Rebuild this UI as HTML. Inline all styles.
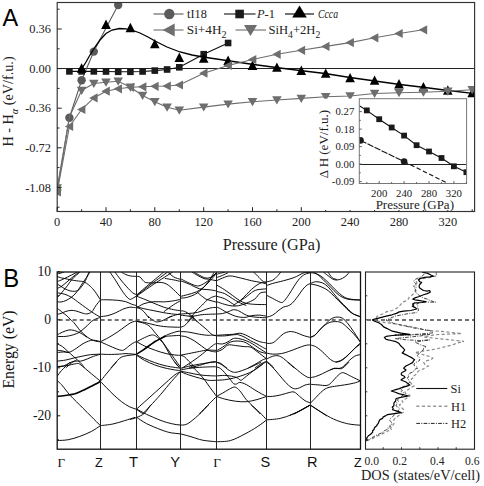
<!DOCTYPE html>
<html><head><meta charset="utf-8"><style>
html,body{margin:0;padding:0;background:#fff;}
svg{display:block;}
</style></head><body>
<svg width="484" height="486" viewBox="0 0 484 486">
<rect width="484" height="486" fill="#fff"/>
<text x="2.5" y="25.6" font-family='"Liberation Sans", sans-serif' font-size="23.5" fill="#000">A</text>
<defs><clipPath id="ca"><rect x="57.2" y="2.5" width="417.4" height="209"/></clipPath><clipPath id="ci"><rect x="359.3" y="98.7" width="107.3" height="84.8"/></clipPath><clipPath id="cb"><rect x="57.2" y="272" width="303.3" height="177.2"/></clipPath><clipPath id="cd"><rect x="365.5" y="272" width="109" height="177.2"/></clipPath></defs>
<line x1="57.2" y1="68.5" x2="474.6" y2="68.5" stroke="#222" stroke-width="1"/>
<g clip-path="url(#ca)">
<polyline points="57.2,190.0 69.4,117.7 81.6,80.3 93.8,51.6 106.0,28.0 118.2,5.0 130.4,-18.0" fill="none" stroke="#5a5a5a" stroke-width="1.1" />
<circle cx="57.2" cy="190.0" r="4.2" fill="#5a5a5a"/>
<circle cx="69.4" cy="117.7" r="4.2" fill="#5a5a5a"/>
<circle cx="81.6" cy="80.3" r="4.2" fill="#5a5a5a"/>
<circle cx="93.8" cy="51.6" r="4.2" fill="#5a5a5a"/>
<circle cx="118.2" cy="5.0" r="4.2" fill="#5a5a5a"/>
<circle cx="130.4" cy="-18.0" r="4.2" fill="#5a5a5a"/>
<polyline points="69.4,71.4 81.6,71.4 93.8,71.4 106.0,71.5 118.2,71.8 130.4,71.8 142.6,71.5 154.8,70.6 167.1,69.5 179.3,67.3 203.7,54.2 228.1,43.0" fill="none" stroke="#111" stroke-width="1.1" />
<rect x="66.1" y="68.1" width="6.6" height="6.6" fill="#1a1a1a"/>
<rect x="78.3" y="68.1" width="6.6" height="6.6" fill="#1a1a1a"/>
<rect x="90.5" y="68.1" width="6.6" height="6.6" fill="#1a1a1a"/>
<rect x="102.7" y="68.2" width="6.6" height="6.6" fill="#1a1a1a"/>
<rect x="114.9" y="68.5" width="6.6" height="6.6" fill="#1a1a1a"/>
<rect x="127.1" y="68.5" width="6.6" height="6.6" fill="#1a1a1a"/>
<rect x="139.3" y="68.2" width="6.6" height="6.6" fill="#1a1a1a"/>
<rect x="151.5" y="67.3" width="6.6" height="6.6" fill="#1a1a1a"/>
<rect x="163.8" y="66.2" width="6.6" height="6.6" fill="#1a1a1a"/>
<rect x="176.0" y="64.0" width="6.6" height="6.6" fill="#1a1a1a"/>
<rect x="200.4" y="50.9" width="6.6" height="6.6" fill="#1a1a1a"/>
<rect x="224.8" y="39.7" width="6.6" height="6.6" fill="#1a1a1a"/>
<polyline points="81.6,69.0 86.0,62.0 90.0,55.0 95.0,47.0 100.0,40.0 106.0,33.5 112.0,30.0 119.4,28.5 126.0,28.8 133.0,30.5 140.0,33.0 148.0,37.0 155.0,41.0 167.0,47.0 180.0,52.0 192.0,55.0 203.0,57.0 230.0,61.0 250.0,64.0 280.0,68.0 300.0,70.5 325.0,73.5 350.0,77.5 375.0,81.0 400.0,84.5 425.0,87.5 448.0,90.5 476.0,93.8" fill="none" stroke="#000" stroke-width="1.3" />
<polygon points="76.8,72.7 86.4,72.7 81.6,63.3" fill="#000"/>
<polygon points="101.2,29.0 110.8,29.0 106.0,19.6" fill="#000"/>
<polygon points="125.6,32.2 135.2,32.2 130.4,22.8" fill="#000"/>
<polygon points="150.0,48.3 159.6,48.3 154.8,38.9" fill="#000"/>
<polygon points="174.5,62.0 184.1,62.0 179.3,52.6" fill="#000"/>
<polygon points="198.9,62.8 208.5,62.8 203.7,53.4" fill="#000"/>
<polygon points="223.3,64.9 232.9,64.9 228.1,55.5" fill="#000"/>
<polygon points="247.7,69.9 257.3,69.9 252.5,60.5" fill="#000"/>
<polygon points="272.1,71.8 281.7,71.8 276.9,62.4" fill="#000"/>
<polygon points="296.5,74.9 306.1,74.9 301.3,65.5" fill="#000"/>
<polygon points="320.9,77.8 330.5,77.8 325.7,68.4" fill="#000"/>
<polygon points="345.3,82.3 354.9,82.3 350.1,72.9" fill="#000"/>
<polygon points="369.8,84.8 379.4,84.8 374.6,75.4" fill="#000"/>
<polygon points="394.2,88.5 403.8,88.5 399.0,79.1" fill="#000"/>
<polygon points="418.6,91.5 428.2,91.5 423.4,82.1" fill="#000"/>
<polygon points="443.0,94.7 452.6,94.7 447.8,85.3" fill="#000"/>
<polygon points="467.4,97.2 477.0,97.2 472.2,87.8" fill="#000"/>
<polyline points="57.2,192.0 69.4,126.5 81.6,109.5 93.8,97.9 106.0,91.2 118.2,88.8 130.4,87.3 142.6,86.8 154.8,86.3 167.1,86.0 179.3,85.0 203.7,73.2 228.1,65.5 252.5,59.5 276.9,54.3 301.3,50.3 325.7,46.4 350.1,42.6 374.6,37.8 399.0,33.5 423.4,29.8" fill="none" stroke="#6e6e6e" stroke-width="1.1" />
<polygon points="61.0,187.4 61.0,196.6 52.6,192.0" fill="#6e6e6e"/>
<polygon points="73.2,121.9 73.2,131.1 64.8,126.5" fill="#6e6e6e"/>
<polygon points="85.4,104.9 85.4,114.1 77.0,109.5" fill="#6e6e6e"/>
<polygon points="97.6,93.3 97.6,102.5 89.2,97.9" fill="#6e6e6e"/>
<polygon points="109.8,86.6 109.8,95.8 101.4,91.2" fill="#6e6e6e"/>
<polygon points="122.0,84.2 122.0,93.4 113.6,88.8" fill="#6e6e6e"/>
<polygon points="134.2,82.7 134.2,91.9 125.8,87.3" fill="#6e6e6e"/>
<polygon points="146.4,82.2 146.4,91.4 138.0,86.8" fill="#6e6e6e"/>
<polygon points="158.6,81.7 158.6,90.9 150.2,86.3" fill="#6e6e6e"/>
<polygon points="170.8,81.4 170.8,90.6 162.4,86.0" fill="#6e6e6e"/>
<polygon points="183.0,80.4 183.0,89.6 174.6,85.0" fill="#6e6e6e"/>
<polygon points="207.5,68.6 207.5,77.8 199.1,73.2" fill="#6e6e6e"/>
<polygon points="231.9,60.9 231.9,70.1 223.5,65.5" fill="#6e6e6e"/>
<polygon points="256.3,54.9 256.3,64.1 247.9,59.5" fill="#6e6e6e"/>
<polygon points="280.7,49.7 280.7,58.9 272.3,54.3" fill="#6e6e6e"/>
<polygon points="305.1,45.7 305.1,54.9 296.7,50.3" fill="#6e6e6e"/>
<polygon points="329.5,41.8 329.5,51.0 321.1,46.4" fill="#6e6e6e"/>
<polygon points="353.9,38.0 353.9,47.2 345.5,42.6" fill="#6e6e6e"/>
<polygon points="378.3,33.2 378.3,42.4 369.9,37.8" fill="#6e6e6e"/>
<polygon points="402.7,28.9 402.7,38.1 394.3,33.5" fill="#6e6e6e"/>
<polygon points="427.2,25.2 427.2,34.4 418.8,29.8" fill="#6e6e6e"/>
<polyline points="57.2,188.0 69.4,117.0 81.6,90.5 93.8,83.5 106.0,82.3 118.2,81.3 130.4,87.3 142.6,95.5 154.8,101.7 167.1,107.2 179.3,110.3 203.7,107.1 228.1,104.1 252.5,101.7 276.9,100.0 301.3,98.4 325.7,96.7 350.1,96.0 374.6,93.5 399.0,92.8 423.4,92.2 447.8,91.2 472.2,89.8" fill="none" stroke="#6e6e6e" stroke-width="1.1" />
<polygon points="52.4,184.3 62.0,184.3 57.2,192.5" fill="#6e6e6e"/>
<polygon points="76.8,86.8 86.4,86.8 81.6,95.0" fill="#6e6e6e"/>
<polygon points="89.0,79.8 98.6,79.8 93.8,88.0" fill="#6e6e6e"/>
<polygon points="101.2,78.6 110.8,78.6 106.0,86.8" fill="#6e6e6e"/>
<polygon points="113.4,77.6 123.0,77.6 118.2,85.8" fill="#6e6e6e"/>
<polygon points="125.6,83.6 135.2,83.6 130.4,91.8" fill="#6e6e6e"/>
<polygon points="137.8,91.8 147.4,91.8 142.6,100.0" fill="#6e6e6e"/>
<polygon points="150.0,98.0 159.6,98.0 154.8,106.2" fill="#6e6e6e"/>
<polygon points="162.3,103.5 171.9,103.5 167.1,111.7" fill="#6e6e6e"/>
<polygon points="174.5,106.6 184.1,106.6 179.3,114.8" fill="#6e6e6e"/>
<polygon points="198.9,103.4 208.5,103.4 203.7,111.6" fill="#6e6e6e"/>
<polygon points="223.3,100.4 232.9,100.4 228.1,108.6" fill="#6e6e6e"/>
<polygon points="247.7,98.0 257.3,98.0 252.5,106.2" fill="#6e6e6e"/>
<polygon points="272.1,96.3 281.7,96.3 276.9,104.5" fill="#6e6e6e"/>
<polygon points="296.5,94.7 306.1,94.7 301.3,102.9" fill="#6e6e6e"/>
<polygon points="320.9,93.0 330.5,93.0 325.7,101.2" fill="#6e6e6e"/>
<polygon points="345.3,92.3 354.9,92.3 350.1,100.5" fill="#6e6e6e"/>
<polygon points="369.8,89.8 379.4,89.8 374.6,98.0" fill="#6e6e6e"/>
<polygon points="394.2,89.1 403.8,89.1 399.0,97.3" fill="#6e6e6e"/>
<polygon points="418.6,88.5 428.2,88.5 423.4,96.7" fill="#6e6e6e"/>
<polygon points="443.0,87.5 452.6,87.5 447.8,95.7" fill="#6e6e6e"/>
<polygon points="467.4,86.1 477.0,86.1 472.2,94.3" fill="#6e6e6e"/>
</g>
<rect x="57.2" y="2.5" width="417.4" height="209.0" fill="none" stroke="#333" stroke-width="1.15"/>
<line x1="57.2" y1="9.2" x2="59.5" y2="9.2" stroke="#222" stroke-width="1"/>
<line x1="57.2" y1="29.0" x2="61.7" y2="29.0" stroke="#222" stroke-width="1"/>
<text x="51" y="33.2" text-anchor="end" font-family='"Liberation Serif", serif' font-size="12.4" fill="#222">0.36</text>
<line x1="57.2" y1="48.8" x2="59.5" y2="48.8" stroke="#222" stroke-width="1"/>
<line x1="57.2" y1="68.6" x2="61.7" y2="68.6" stroke="#222" stroke-width="1"/>
<text x="51" y="72.8" text-anchor="end" font-family='"Liberation Serif", serif' font-size="12.4" fill="#222">0.00</text>
<line x1="57.2" y1="88.4" x2="59.5" y2="88.4" stroke="#222" stroke-width="1"/>
<line x1="57.2" y1="108.2" x2="61.7" y2="108.2" stroke="#222" stroke-width="1"/>
<text x="51" y="112.4" text-anchor="end" font-family='"Liberation Serif", serif' font-size="12.4" fill="#222">-0.36</text>
<line x1="57.2" y1="128.0" x2="59.5" y2="128.0" stroke="#222" stroke-width="1"/>
<line x1="57.2" y1="147.8" x2="61.7" y2="147.8" stroke="#222" stroke-width="1"/>
<text x="51" y="152.0" text-anchor="end" font-family='"Liberation Serif", serif' font-size="12.4" fill="#222">-0.72</text>
<line x1="57.2" y1="167.6" x2="59.5" y2="167.6" stroke="#222" stroke-width="1"/>
<line x1="57.2" y1="187.4" x2="61.7" y2="187.4" stroke="#222" stroke-width="1"/>
<text x="51" y="191.6" text-anchor="end" font-family='"Liberation Serif", serif' font-size="12.4" fill="#222">-1.08</text>
<line x1="57.2" y1="207.2" x2="59.5" y2="207.2" stroke="#222" stroke-width="1"/>
<line x1="57.2" y1="211.5" x2="57.2" y2="207.2" stroke="#222" stroke-width="1"/>
<text x="57.2" y="226.0" text-anchor="middle" font-family='"Liberation Serif", serif' font-size="12.4" fill="#222">0</text>
<line x1="81.6" y1="211.5" x2="81.6" y2="209.3" stroke="#222" stroke-width="1"/>
<line x1="106.0" y1="211.5" x2="106.0" y2="207.2" stroke="#222" stroke-width="1"/>
<text x="106.0" y="226.0" text-anchor="middle" font-family='"Liberation Serif", serif' font-size="12.4" fill="#222">40</text>
<line x1="130.4" y1="211.5" x2="130.4" y2="209.3" stroke="#222" stroke-width="1"/>
<line x1="154.8" y1="211.5" x2="154.8" y2="207.2" stroke="#222" stroke-width="1"/>
<text x="154.8" y="226.0" text-anchor="middle" font-family='"Liberation Serif", serif' font-size="12.4" fill="#222">80</text>
<line x1="179.3" y1="211.5" x2="179.3" y2="209.3" stroke="#222" stroke-width="1"/>
<line x1="203.7" y1="211.5" x2="203.7" y2="207.2" stroke="#222" stroke-width="1"/>
<text x="203.7" y="226.0" text-anchor="middle" font-family='"Liberation Serif", serif' font-size="12.4" fill="#222">120</text>
<line x1="228.1" y1="211.5" x2="228.1" y2="209.3" stroke="#222" stroke-width="1"/>
<line x1="252.5" y1="211.5" x2="252.5" y2="207.2" stroke="#222" stroke-width="1"/>
<text x="252.5" y="226.0" text-anchor="middle" font-family='"Liberation Serif", serif' font-size="12.4" fill="#222">160</text>
<line x1="276.9" y1="211.5" x2="276.9" y2="209.3" stroke="#222" stroke-width="1"/>
<line x1="301.3" y1="211.5" x2="301.3" y2="207.2" stroke="#222" stroke-width="1"/>
<text x="301.3" y="226.0" text-anchor="middle" font-family='"Liberation Serif", serif' font-size="12.4" fill="#222">200</text>
<line x1="325.7" y1="211.5" x2="325.7" y2="209.3" stroke="#222" stroke-width="1"/>
<line x1="350.1" y1="211.5" x2="350.1" y2="207.2" stroke="#222" stroke-width="1"/>
<text x="350.1" y="226.0" text-anchor="middle" font-family='"Liberation Serif", serif' font-size="12.4" fill="#222">240</text>
<line x1="374.6" y1="211.5" x2="374.6" y2="209.3" stroke="#222" stroke-width="1"/>
<line x1="399.0" y1="211.5" x2="399.0" y2="207.2" stroke="#222" stroke-width="1"/>
<text x="399.0" y="226.0" text-anchor="middle" font-family='"Liberation Serif", serif' font-size="12.4" fill="#222">280</text>
<line x1="423.4" y1="211.5" x2="423.4" y2="209.3" stroke="#222" stroke-width="1"/>
<line x1="447.8" y1="211.5" x2="447.8" y2="207.2" stroke="#222" stroke-width="1"/>
<text x="447.8" y="226.0" text-anchor="middle" font-family='"Liberation Serif", serif' font-size="12.4" fill="#222">320</text>
<line x1="472.2" y1="211.5" x2="472.2" y2="209.3" stroke="#222" stroke-width="1"/>
<text x="271.5" y="249.5" text-anchor="middle" font-family='"Liberation Serif", serif' font-size="16.2" fill="#222">Pressure (GPa)</text>
<text transform="translate(13,101.5) rotate(-90)" text-anchor="middle" font-family='"Liberation Serif", serif' font-size="14.2" fill="#222">H - H<tspan font-style="italic" font-size="10.5" dy="4.5">α</tspan><tspan dy="-4.5"> (eV/f.u.)</tspan></text>
<line x1="153.5" y1="14" x2="183.5" y2="14" stroke="#5a5a5a" stroke-width="1.1"/><circle cx="169.3" cy="14.0" r="5.2" fill="#5a5a5a"/>
<text x="187" y="18.2" font-family='"Liberation Serif", serif' font-size="12.4" fill="#222" textLength="19.8" lengthAdjust="spacingAndGlyphs">tI18</text>
<line x1="224" y1="14" x2="255.5" y2="14" stroke="#111" stroke-width="1.1"/><rect x="235.3" y="9.7" width="8.6" height="8.6" fill="#1a1a1a"/>
<text x="257" y="18.3" font-family='"Liberation Serif", serif' font-size="12.4" fill="#222"><tspan font-style="italic">P</tspan>-1</text>
<line x1="285" y1="14" x2="314" y2="14" stroke="#000" stroke-width="1.1"/><polygon points="292.2,17.4 306.8,17.4 299.5,5.4" fill="#000"/>
<text x="318" y="18.3" font-family='"Liberation Serif", serif' font-size="12.4" font-style="italic" fill="#222" textLength="20" lengthAdjust="spacingAndGlyphs">Ccca</text>
<line x1="153.5" y1="30" x2="183.5" y2="30" stroke="#6e6e6e" stroke-width="1.1"/><polygon points="174.7,23.5 174.7,36.5 162.7,30.0" fill="#6e6e6e"/>
<text x="186.8" y="34.3" font-family='"Liberation Serif", serif' font-size="12.4" fill="#222" textLength="39.7" lengthAdjust="spacingAndGlyphs">Si+4H<tspan font-size="9.5" dy="3.6">2</tspan></text>
<line x1="235.5" y1="30" x2="266" y2="30" stroke="#6e6e6e" stroke-width="1.1"/><polygon points="244.0,25.1 257.0,25.1 250.5,36.0" fill="#6e6e6e"/>
<text x="268.5" y="34.3" font-family='"Liberation Serif", serif' font-size="12.4" fill="#222" textLength="51.8" lengthAdjust="spacingAndGlyphs">SiH<tspan font-size="9.5" dy="3.6">4</tspan><tspan dy="-3.6">+2H</tspan><tspan font-size="9.5" dy="3.6">2</tspan></text>
<rect x="318" y="98.7" width="148.6" height="111.3" fill="#fff"/>
<g clip-path="url(#ci)">
<line x1="359.3" y1="164.5" x2="466.6" y2="164.5" stroke="#222" stroke-width="1"/>
<polyline points="359.3,105.8 366.8,110.4 379.2,119.2 391.6,127.5 404.1,135.6 416.6,145.2 429.0,151.5 441.4,158.0 453.9,166.3 466.4,172.2 468.0,173.0" fill="none" stroke="#111" stroke-width="1.1" />
<rect x="363.9" y="107.5" width="5.8" height="5.8" fill="#1a1a1a"/>
<rect x="376.3" y="116.3" width="5.8" height="5.8" fill="#1a1a1a"/>
<rect x="388.8" y="124.6" width="5.8" height="5.8" fill="#1a1a1a"/>
<rect x="401.2" y="132.7" width="5.8" height="5.8" fill="#1a1a1a"/>
<rect x="413.7" y="142.3" width="5.8" height="5.8" fill="#1a1a1a"/>
<rect x="426.1" y="148.6" width="5.8" height="5.8" fill="#1a1a1a"/>
<rect x="438.6" y="155.1" width="5.8" height="5.8" fill="#1a1a1a"/>
<rect x="451.0" y="163.4" width="5.8" height="5.8" fill="#1a1a1a"/>
<rect x="463.5" y="169.3" width="5.8" height="5.8" fill="#1a1a1a"/>
<polyline points="360.5,140.4 404.1,161.6" fill="none" stroke="#111" stroke-width="1.1" stroke-dasharray="6.5,1.3"/>
<polyline points="404.1,161.6 450.0,184.5" fill="none" stroke="#111" stroke-width="1.1" stroke-dasharray="4.5,2.5"/>
<circle cx="360.5" cy="140.4" r="3.3" fill="#1a1a1a"/>
<circle cx="404.1" cy="161.6" r="3.3" fill="#1a1a1a"/>
</g>
<rect x="359.3" y="98.7" width="107.3" height="84.8" fill="none" stroke="#777" stroke-width="1"/>
<line x1="359.3" y1="111.6" x2="361.8" y2="111.6" stroke="#555" stroke-width="0.9"/>
<text x="354.3" y="115.2" text-anchor="end" font-family='"Liberation Serif", serif' font-size="10.8" fill="#222">0.27</text>
<line x1="359.3" y1="129.1" x2="361.8" y2="129.1" stroke="#555" stroke-width="0.9"/>
<text x="354.3" y="132.7" text-anchor="end" font-family='"Liberation Serif", serif' font-size="10.8" fill="#222">0.18</text>
<line x1="359.3" y1="146.6" x2="361.8" y2="146.6" stroke="#555" stroke-width="0.9"/>
<text x="354.3" y="150.2" text-anchor="end" font-family='"Liberation Serif", serif' font-size="10.8" fill="#222">0.09</text>
<line x1="359.3" y1="164.1" x2="361.8" y2="164.1" stroke="#555" stroke-width="0.9"/>
<text x="354.3" y="167.7" text-anchor="end" font-family='"Liberation Serif", serif' font-size="10.8" fill="#222">0.00</text>
<line x1="359.3" y1="181.6" x2="361.8" y2="181.6" stroke="#555" stroke-width="0.9"/>
<text x="354.3" y="185.2" text-anchor="end" font-family='"Liberation Serif", serif' font-size="10.8" fill="#222">-0.09</text>
<line x1="359.3" y1="120.4" x2="360.8" y2="120.4" stroke="#555" stroke-width="0.9"/>
<line x1="359.3" y1="137.9" x2="360.8" y2="137.9" stroke="#555" stroke-width="0.9"/>
<line x1="359.3" y1="155.4" x2="360.8" y2="155.4" stroke="#555" stroke-width="0.9"/>
<line x1="359.3" y1="172.8" x2="360.8" y2="172.8" stroke="#555" stroke-width="0.9"/>
<line x1="366.8" y1="183.5" x2="366.8" y2="182.0" stroke="#555" stroke-width="0.9"/>
<line x1="379.2" y1="183.5" x2="379.2" y2="181.0" stroke="#555" stroke-width="0.9"/>
<text x="379.2" y="196.6" text-anchor="middle" font-family='"Liberation Serif", serif' font-size="10.8" fill="#222">200</text>
<line x1="391.6" y1="183.5" x2="391.6" y2="182.0" stroke="#555" stroke-width="0.9"/>
<line x1="404.1" y1="183.5" x2="404.1" y2="181.0" stroke="#555" stroke-width="0.9"/>
<text x="404.1" y="196.6" text-anchor="middle" font-family='"Liberation Serif", serif' font-size="10.8" fill="#222">240</text>
<line x1="416.6" y1="183.5" x2="416.6" y2="182.0" stroke="#555" stroke-width="0.9"/>
<line x1="429.0" y1="183.5" x2="429.0" y2="181.0" stroke="#555" stroke-width="0.9"/>
<text x="429.0" y="196.6" text-anchor="middle" font-family='"Liberation Serif", serif' font-size="10.8" fill="#222">280</text>
<line x1="441.4" y1="183.5" x2="441.4" y2="182.0" stroke="#555" stroke-width="0.9"/>
<line x1="453.9" y1="183.5" x2="453.9" y2="181.0" stroke="#555" stroke-width="0.9"/>
<text x="453.9" y="196.6" text-anchor="middle" font-family='"Liberation Serif", serif' font-size="10.8" fill="#222">320</text>
<line x1="466.4" y1="183.5" x2="466.4" y2="182.0" stroke="#555" stroke-width="0.9"/>
<text x="414.8" y="208.5" text-anchor="middle" font-family='"Liberation Serif", serif' font-size="13" fill="#222">Pressure (GPa)</text>
<text transform="translate(328,144.1) rotate(-90)" text-anchor="middle" font-family='"Liberation Serif", serif' font-size="13" fill="#222">Δ H (eV/f.u.)</text>
<text transform="translate(3.2,287) scale(0.9,1)" font-family='"Liberation Sans", sans-serif' font-size="26.5" fill="#000">B</text>
<g clip-path="url(#cb)"><path d="M57.20,301.70C57.83,301.75 59.53,302.20 61.00,302.00C62.47,301.80 64.33,301.25 66.00,300.50C67.67,299.75 69.50,298.58 71.00,297.50C72.50,296.42 73.67,295.45 75.00,294.00C76.33,292.55 77.67,290.73 79.00,288.80C80.33,286.87 81.75,284.28 83.00,282.40C84.25,280.52 85.33,279.23 86.50,277.50C87.67,275.77 89.42,272.92 90.00,272.00 M57.20,283.90C57.83,284.32 59.72,285.58 61.00,286.40C62.28,287.22 63.42,288.07 64.90,288.80C66.38,289.53 68.25,290.38 69.90,290.80C71.55,291.22 73.32,291.47 74.80,291.30C76.28,291.13 77.47,290.87 78.80,289.80C80.13,288.73 81.68,286.45 82.80,284.90C83.92,283.35 84.47,282.65 85.50,280.50C86.53,278.35 88.42,273.42 89.00,272.00 M57.20,297.50C57.67,297.05 58.98,295.93 60.00,294.80C61.02,293.67 62.07,292.22 63.30,290.70C64.53,289.18 66.03,287.50 67.40,285.70C68.77,283.90 70.12,281.55 71.50,279.90C72.88,278.25 74.32,277.10 75.70,275.80C77.08,274.50 79.12,272.72 79.80,272.10 M57.20,276.60C57.93,276.82 59.90,277.48 61.60,277.90C63.30,278.32 65.47,278.70 67.40,279.10C69.33,279.50 71.13,279.95 73.20,280.30C75.27,280.65 78.15,280.98 79.80,281.20C81.45,281.42 82.00,281.27 83.10,281.60C84.20,281.93 85.17,282.38 86.40,283.20C87.63,284.02 89.07,285.12 90.50,286.50C91.93,287.88 93.35,289.28 95.00,291.50C96.65,293.72 99.50,298.42 100.40,299.80 M57.20,281.60C58.22,281.18 60.92,280.20 63.30,279.10C65.68,278.00 69.17,276.17 71.50,275.00C73.83,273.83 76.33,272.58 77.30,272.10 M57.20,273.70C57.67,273.63 58.85,273.58 60.00,273.30C61.15,273.02 63.42,272.22 64.10,272.00 M57.20,288.50C58.00,288.08 60.20,287.25 62.00,286.00C63.80,284.75 66.00,282.67 68.00,281.00C70.00,279.33 72.17,277.50 74.00,276.00C75.83,274.50 78.17,272.67 79.00,272.00 M57.20,292.80C58.48,293.05 62.45,293.50 64.90,294.30C67.35,295.10 69.42,296.08 71.90,297.60C74.38,299.12 76.50,301.02 79.80,303.40C83.10,305.78 88.27,309.58 91.70,311.90C95.13,314.22 98.95,316.40 100.40,317.30 M57.20,308.40C57.67,308.73 59.05,309.67 60.00,310.40C60.95,311.13 61.75,311.90 62.90,312.80C64.05,313.70 65.57,314.60 66.90,315.80C68.23,317.00 69.75,318.88 70.90,320.00C72.05,321.12 72.33,320.83 73.80,322.50C75.27,324.17 77.82,327.87 79.70,330.00C81.58,332.13 83.32,333.78 85.10,335.30C86.88,336.82 88.62,338.12 90.40,339.10C92.18,340.08 94.10,340.75 95.80,341.20C97.50,341.65 99.80,341.70 100.60,341.80 M57.20,314.40C57.83,314.23 59.55,313.90 61.00,313.40C62.45,312.90 64.25,311.90 65.90,311.40C67.55,310.90 69.25,310.48 70.90,310.40C72.55,310.32 73.98,310.48 75.80,310.90C77.62,311.32 79.97,312.40 81.80,312.90C83.63,313.40 85.15,314.07 86.80,313.90C88.45,313.73 90.22,313.23 91.70,311.90C93.18,310.57 94.25,307.88 95.70,305.90C97.15,303.92 99.62,300.98 100.40,300.00 M180.60,278.70C181.72,279.28 184.70,281.02 187.30,282.20C189.90,283.38 193.83,285.35 196.20,285.80C198.57,286.25 199.43,285.80 201.50,284.90C203.57,284.00 206.68,281.88 208.60,280.40C210.52,278.92 211.67,277.32 213.00,276.00C214.33,274.68 216.00,273.08 216.60,272.50 M180.60,296.40C181.72,296.12 184.70,295.43 187.30,294.70C189.90,293.97 193.53,293.20 196.20,292.00C198.87,290.80 200.93,289.43 203.30,287.50C205.67,285.57 208.18,282.77 210.40,280.40C212.62,278.03 215.57,274.48 216.60,273.30 M180.60,298.20C181.72,298.05 185.00,297.88 187.30,297.30C189.60,296.72 192.33,295.73 194.40,294.70C196.47,293.67 197.92,292.58 199.70,291.10C201.48,289.62 203.32,287.87 205.10,285.80C206.88,283.73 208.92,280.92 210.40,278.70C211.88,276.48 213.40,273.53 214.00,272.50 M109.90,272.00C110.90,273.48 114.08,278.10 115.90,280.90C117.72,283.70 119.15,286.32 120.80,288.80C122.45,291.28 124.32,294.05 125.80,295.80C127.28,297.55 128.55,298.88 129.70,299.30C130.85,299.72 131.50,298.88 132.70,298.30C133.90,297.72 136.20,296.22 136.90,295.80 M114.90,272.00C115.88,273.32 118.82,277.42 120.80,279.90C122.78,282.38 124.82,284.75 126.80,286.90C128.78,289.05 131.02,291.48 132.70,292.80C134.38,294.12 136.20,294.47 136.90,294.80 M121.30,272.00C122.05,272.42 124.23,273.83 125.80,274.50C127.37,275.17 128.85,275.68 130.70,276.00C132.55,276.32 135.87,276.33 136.90,276.40 M100.50,299.80C101.73,299.80 105.02,299.72 107.90,299.80C110.78,299.88 114.82,299.98 117.80,300.30C120.78,300.62 123.48,301.05 125.80,301.70C128.12,302.35 129.85,303.53 131.70,304.20C133.55,304.87 136.03,305.45 136.90,305.70 M100.50,316.60C101.73,316.43 105.33,316.25 107.90,315.60C110.47,314.95 113.42,313.77 115.90,312.70C118.38,311.63 120.50,310.12 122.80,309.20C125.10,308.28 127.88,307.48 129.70,307.20C131.52,306.92 132.50,307.42 133.70,307.50C134.90,307.58 136.37,307.67 136.90,307.70 M136.80,294.80C139.00,292.92 145.50,287.30 150.00,283.50C154.50,279.70 161.50,273.92 163.80,272.00 M136.80,295.50C139.33,293.50 146.85,287.42 152.00,283.50C157.15,279.58 165.08,273.92 167.70,272.00 M136.80,296.00C139.67,294.00 148.02,288.00 154.00,284.00C159.98,280.00 169.58,274.00 172.70,272.00 M136.80,276.40C137.33,276.50 138.82,276.17 140.00,277.00C141.18,277.83 142.75,280.45 143.90,281.40C145.05,282.35 145.25,282.45 146.90,282.70C148.55,282.95 151.82,282.95 153.80,282.90C155.78,282.85 157.13,282.40 158.80,282.40C160.47,282.40 162.15,282.40 163.80,282.90C165.45,283.40 167.05,284.25 168.70,285.40C170.35,286.55 171.75,287.98 173.70,289.80C175.65,291.62 179.28,295.22 180.40,296.30 M167.70,272.00C168.70,272.82 171.58,275.67 173.70,276.90C175.82,278.13 179.28,278.98 180.40,279.40 M164.80,278.40C166.28,278.65 171.10,279.40 173.70,279.90C176.30,280.40 179.28,281.15 180.40,281.40 M136.80,296.30C138.32,296.88 143.07,298.65 145.90,299.80C148.73,300.95 150.82,301.97 153.80,303.20C156.78,304.43 160.48,306.12 163.80,307.20C167.12,308.28 170.93,309.12 173.70,309.70C176.47,310.28 179.28,310.53 180.40,310.70 M136.80,307.70C137.98,307.03 141.07,304.70 143.90,303.70C146.73,302.70 150.48,302.00 153.80,301.70C157.12,301.40 160.48,302.05 163.80,301.90C167.12,301.75 170.93,301.23 173.70,300.80C176.47,300.37 179.28,299.55 180.40,299.30 M136.80,306.70C137.98,307.03 141.07,308.03 143.90,308.70C146.73,309.37 150.48,310.03 153.80,310.70C157.12,311.37 160.48,312.13 163.80,312.70C167.12,313.27 170.93,313.78 173.70,314.10C176.47,314.42 179.28,314.52 180.40,314.60 M163.80,311.70C165.45,310.53 170.93,306.52 173.70,304.70C176.47,302.88 179.28,301.45 180.40,300.80 M136.80,307.70C137.33,307.87 138.82,308.03 140.00,308.70C141.18,309.37 142.42,310.15 143.90,311.70C145.38,313.25 148.07,316.95 148.90,318.00 M167.70,318.00C168.70,317.60 171.58,316.32 173.70,315.60C175.82,314.88 179.28,314.02 180.40,313.70 M180.51,280.74C181.91,281.28 186.60,282.98 188.89,283.96C191.18,284.95 192.47,285.84 194.26,286.65C196.05,287.45 198.02,288.35 199.63,288.80C201.24,289.24 202.14,289.16 203.93,289.33C205.72,289.51 208.26,289.60 210.37,289.87C212.48,290.14 215.56,290.77 216.60,290.95 M192.11,272.15C193.01,272.69 195.51,274.30 197.48,275.37C199.45,276.44 202.14,277.97 203.93,278.59C205.72,279.22 206.11,278.77 208.22,279.13C210.34,279.49 215.21,280.47 216.60,280.74 M194.26,272.15C195.16,272.69 197.66,274.39 199.63,275.37C201.60,276.36 204.11,277.79 206.08,278.06C208.04,278.32 209.83,277.79 211.45,276.98C213.06,276.18 215.03,273.85 215.74,273.22 M197.48,292.56C198.38,293.27 201.24,295.69 202.85,296.85C204.46,298.02 205.72,299.45 207.15,299.54C208.58,299.63 209.87,298.02 211.45,297.39C213.02,296.76 215.74,296.05 216.60,295.78 M207.15,299.54L216.60,302.22 M180.51,314.04C181.73,313.95 184.99,313.77 187.82,313.50C190.64,313.23 194.44,313.14 197.48,312.43C200.53,311.71 203.57,310.01 206.08,309.21C208.58,308.40 210.77,307.86 212.52,307.59C214.27,307.33 215.92,307.59 216.60,307.59 M187.82,321.99C189.07,320.30 193.01,314.65 195.33,311.89C197.66,309.13 199.81,307.41 201.78,305.45C203.75,303.48 206.25,300.97 207.15,300.08 M180.51,315.11C182.44,315.29 188.39,316.28 192.11,316.19C195.84,316.10 198.77,314.93 202.85,314.58C206.93,314.22 214.31,314.13 216.60,314.04 M180.51,310.82C181.19,310.91 183.02,310.73 184.59,311.35C186.17,311.98 188.35,313.41 189.96,314.58C191.57,315.74 193.01,317.10 194.26,318.34C195.51,319.57 196.95,321.38 197.48,321.99 M216.69,280.74C217.67,280.29 220.36,278.86 222.59,278.06C224.83,277.25 227.07,275.91 230.11,275.91C233.16,275.91 237.27,277.25 240.85,278.06C244.43,278.86 248.37,280.03 251.59,280.74C254.82,281.46 257.68,281.82 260.19,282.35C262.69,282.89 265.56,283.69 266.63,283.96 M216.69,277.52C217.67,277.16 220.71,276.18 222.59,275.37C224.47,274.56 227.07,273.13 227.96,272.69 M216.69,274.30C217.31,274.12 219.10,273.54 220.44,273.22C221.79,272.90 224.03,272.51 224.74,272.36 M253.74,272.15C254.64,273.04 257.50,275.91 259.11,277.52C260.72,279.13 262.16,280.92 263.41,281.82C264.66,282.71 266.09,282.71 266.63,282.89 M216.69,285.04C218.03,285.84 222.15,288.17 224.74,289.87C227.34,291.57 229.75,293.45 232.26,295.24C234.77,297.03 237.45,299.27 239.78,300.61C242.11,301.95 243.72,302.67 246.22,303.30C248.73,303.92 251.41,304.16 254.82,304.37C258.22,304.59 264.66,304.55 266.63,304.59 M216.69,291.48C218.03,291.84 222.15,292.47 224.74,293.63C227.34,294.79 229.93,297.03 232.26,298.46C234.59,299.90 236.38,301.06 238.70,302.22C241.03,303.39 244.97,304.91 246.22,305.45 M216.69,296.32C218.03,296.73 222.15,297.59 224.74,298.79C227.34,299.99 230.47,302.40 232.26,303.51C234.05,304.62 234.95,305.12 235.48,305.45 M216.69,301.69C218.03,302.13 222.15,303.66 224.74,304.37C227.34,305.09 229.93,305.77 232.26,305.98C234.59,306.20 236.38,306.11 238.70,305.66C241.03,305.21 243.54,304.41 246.22,303.30C248.91,302.19 252.49,300.70 254.82,299.00C257.14,297.30 258.22,294.26 260.19,293.09C262.16,291.93 265.56,292.20 266.63,292.02 M233.33,305.45C234.59,304.55 238.70,301.87 240.85,300.08C243.00,298.28 244.43,296.49 246.22,294.70C248.01,292.91 249.80,290.95 251.59,289.33C253.38,287.72 255.17,286.20 256.96,285.04C258.75,283.87 260.72,282.89 262.34,282.35C263.95,281.82 265.92,281.90 266.63,281.82 M239.78,301.15C240.85,300.43 244.25,298.28 246.22,296.85C248.19,295.42 249.80,293.72 251.59,292.56C253.38,291.39 254.46,290.50 256.96,289.87C259.47,289.24 265.02,288.98 266.63,288.80 M216.69,307.06C217.31,307.33 219.10,307.95 220.44,308.67C221.79,309.38 223.13,310.46 224.74,311.35C226.35,312.25 228.32,313.23 230.11,314.04C231.90,314.84 233.69,315.65 235.48,316.19C237.27,316.72 239.06,317.08 240.85,317.26C242.64,317.44 244.43,317.53 246.22,317.26C248.01,316.99 249.45,316.01 251.59,315.65C253.74,315.29 256.61,315.02 259.11,315.11C261.62,315.20 265.38,316.01 266.63,316.19 M216.69,314.04C217.67,313.95 220.71,313.86 222.59,313.50C224.47,313.14 226.17,312.52 227.96,311.89C229.75,311.26 231.54,309.92 233.33,309.74C235.12,309.56 236.91,310.10 238.70,310.82C240.49,311.53 242.28,313.14 244.08,314.04C245.87,314.93 247.30,315.65 249.45,316.19C251.59,316.72 254.10,316.99 256.96,317.26C259.83,317.53 265.02,317.71 266.63,317.80 M266.62,281.82C267.64,281.55 271.00,281.10 272.74,280.20C274.48,279.31 275.69,277.79 277.04,276.44C278.38,275.10 280.17,272.86 280.80,272.15 M266.62,285.57C267.64,285.22 269.93,284.23 272.74,283.43C275.55,282.62 279.90,281.73 283.48,280.74C287.06,279.76 291.00,278.77 294.22,277.52C297.45,276.27 300.67,274.08 302.82,273.22C304.96,272.36 305.77,272.45 307.11,272.36C308.46,272.27 310.25,272.63 310.87,272.69 M266.62,295.24C267.64,295.78 270.47,297.30 272.74,298.46C275.01,299.63 278.47,301.69 280.26,302.22C282.05,302.76 282.05,302.94 283.48,301.69C284.91,300.43 287.06,297.30 288.85,294.70C290.64,292.11 292.43,288.80 294.22,286.11C296.01,283.43 297.80,280.56 299.59,278.59C301.38,276.62 303.08,275.28 304.96,274.30C306.84,273.31 309.89,272.95 310.87,272.69 M266.62,317.26C267.64,316.90 270.83,316.19 272.74,315.11C274.66,314.04 276.32,312.16 278.11,310.82C279.90,309.47 281.87,307.86 283.48,307.06C285.09,306.25 286.35,306.61 287.78,305.98C289.21,305.36 290.46,304.82 292.08,303.30C293.69,301.78 295.66,299.18 297.45,296.85C299.24,294.53 301.21,291.30 302.82,289.33C304.43,287.36 305.77,286.02 307.11,285.04C308.46,284.05 310.25,283.69 310.87,283.43 M310.67,272.79C311.51,272.88 314.11,272.70 315.69,273.35C317.27,274.00 318.48,275.21 320.16,276.69C321.83,278.18 323.88,280.41 325.74,282.27C327.59,284.13 329.45,285.99 331.31,287.85C333.17,289.71 335.03,291.85 336.89,293.43C338.75,295.01 340.61,296.37 342.47,297.33C344.33,298.30 346.19,298.80 348.05,299.23C349.91,299.66 351.55,299.75 353.63,299.90C355.71,300.05 359.39,300.09 360.55,300.12 M313.46,272.79C314.58,273.25 317.93,274.18 320.16,275.58C322.39,276.97 324.81,279.30 326.85,281.16C328.90,283.02 330.57,284.88 332.43,286.74C334.29,288.59 335.96,290.55 338.01,292.31C340.05,294.08 342.47,296.18 344.70,297.33C346.93,298.49 348.76,298.80 351.40,299.23C354.04,299.66 359.02,299.79 360.55,299.90 M310.67,283.39C311.51,283.11 313.74,281.81 315.69,281.71C317.65,281.62 320.34,281.99 322.39,282.83C324.43,283.67 326.11,284.97 327.97,286.74C329.83,288.50 331.50,291.01 333.55,293.43C335.59,295.85 338.01,298.82 340.24,301.24C342.47,303.66 344.70,305.80 346.93,307.93C349.17,310.07 351.36,312.58 353.63,314.07C355.90,315.56 359.39,316.39 360.55,316.86 M310.67,283.95C311.88,284.23 315.42,284.78 317.93,285.62C320.44,286.46 323.50,287.67 325.74,288.97C327.97,290.27 329.27,291.57 331.31,293.43C333.36,295.29 335.78,297.89 338.01,300.12C340.24,302.36 342.47,304.68 344.70,306.82C346.93,308.96 349.17,311.47 351.40,312.95C353.63,314.44 356.57,315.09 358.09,315.74C359.62,316.39 360.14,316.67 360.55,316.86 M323.50,272.23C324.25,272.79 326.48,274.46 327.97,275.58C329.45,276.69 330.94,278.18 332.43,278.93C333.92,279.67 335.22,280.13 336.89,280.04C338.57,279.95 340.80,279.20 342.47,278.37C344.14,277.53 345.82,276.04 346.93,275.02C348.05,274.00 348.79,272.70 349.17,272.23 M327.97,272.23C328.71,273.16 330.94,276.60 332.43,277.81C333.92,279.02 336.15,279.20 336.89,279.48 M57.36,336.41C58.76,336.41 63.09,336.68 65.74,336.41C68.39,336.14 71.11,335.42 73.26,334.80C75.41,334.17 77.02,333.54 78.63,332.65C80.24,331.75 81.49,330.59 82.93,329.43C84.36,328.26 85.79,327.01 87.22,325.67C88.66,324.32 90.09,322.48 91.52,321.37C92.95,320.26 94.29,319.69 95.82,319.01C97.34,318.33 99.84,317.58 100.65,317.29 M57.36,334.80C58.22,334.35 60.59,332.92 62.52,332.11C64.45,331.31 66.99,330.23 68.96,329.96C70.93,329.69 72.36,329.96 74.33,330.50C76.30,331.04 78.63,332.02 80.78,333.19C82.93,334.35 86.15,336.77 87.22,337.48 M57.36,343.93C58.22,344.37 60.76,345.36 62.52,346.61C64.27,347.87 66.10,349.83 67.89,351.45C69.68,353.06 71.65,354.85 73.26,356.28C74.87,357.71 76.12,358.70 77.56,360.04C78.99,361.38 80.69,363.01 81.85,364.34C83.02,365.66 84.09,367.38 84.54,367.99 M57.36,350.37C58.22,350.46 60.59,350.59 62.52,350.91C64.45,351.23 66.64,352.75 68.96,352.31C71.29,351.86 74.16,349.66 76.48,348.22C78.81,346.79 80.60,345.00 82.93,343.71C85.25,342.42 88.30,341.03 90.45,340.49C92.59,339.95 94.12,340.27 95.82,340.49C97.52,340.70 99.84,341.56 100.65,341.78 M57.36,361.11C58.76,360.93 62.91,360.58 65.74,360.04C68.57,359.50 71.65,358.52 74.33,357.89C77.02,357.26 79.17,356.82 81.85,356.28C84.54,355.74 87.31,355.03 90.45,354.67C93.58,354.31 98.95,354.22 100.65,354.13 M57.36,366.48C58.40,366.39 61.66,366.48 63.59,365.95C65.53,365.41 67.17,364.07 68.96,363.26C70.75,362.46 72.36,361.47 74.33,361.11C76.30,360.75 78.63,361.47 80.78,361.11C82.93,360.75 85.08,359.77 87.22,358.96C89.37,358.16 91.43,357.08 93.67,356.28C95.91,355.47 99.49,354.49 100.65,354.13 M57.36,352.52C58.40,352.43 61.66,351.98 63.59,351.98C65.53,351.98 68.07,352.43 68.96,352.52 M65.74,367.99C66.64,367.20 69.32,364.59 71.11,363.26C72.90,361.94 75.59,360.58 76.48,360.04 M100.36,341.78C101.76,341.06 105.91,339.09 108.74,337.48C111.57,335.87 114.65,333.90 117.33,332.11C120.02,330.32 122.70,328.26 124.85,326.74C127.00,325.22 128.61,323.88 130.22,322.98C131.83,322.09 133.41,321.67 134.52,321.37C135.63,321.07 136.49,321.19 136.88,321.16 M100.36,341.78C101.76,342.41 106.09,344.37 108.74,345.54C111.39,346.70 114.11,347.95 116.26,348.76C118.41,349.57 120.20,350.28 121.63,350.37C123.06,350.46 123.42,350.19 124.85,349.30C126.28,348.40 128.61,346.16 130.22,345.00C131.83,343.84 133.41,342.85 134.52,342.32C135.63,341.78 136.49,341.87 136.88,341.78 M100.36,354.13C101.76,354.18 105.55,354.45 108.74,354.45C111.93,354.45 116.62,354.27 119.48,354.13C122.35,353.99 123.03,353.54 125.93,353.59C128.83,353.65 135.06,354.31 136.88,354.45 M110.89,367.99C111.61,367.20 113.75,364.85 115.19,363.26C116.62,361.67 118.05,359.59 119.48,358.43C120.91,357.26 121.99,356.82 123.78,356.28C125.57,355.74 128.04,355.51 130.22,355.21C132.41,354.90 135.77,354.58 136.88,354.45 M147.96,316.00C148.68,316.63 150.83,318.77 152.26,319.76C153.69,320.74 154.95,321.73 156.56,321.91C158.17,322.09 159.96,321.55 161.93,320.83C163.90,320.12 166.76,318.42 168.37,317.61C169.98,316.81 171.06,316.27 171.59,316.00 M136.69,321.37C138.03,321.55 141.61,321.82 144.74,322.44C147.87,323.07 151.90,324.41 155.48,325.13C159.06,325.85 162.07,326.38 166.22,326.74C170.38,327.10 178.04,327.19 180.40,327.28 M136.69,321.37C138.03,321.73 142.50,322.62 144.74,323.52C146.98,324.41 148.32,325.13 150.11,326.74C151.90,328.35 153.69,331.04 155.48,333.19C157.27,335.33 159.06,337.30 160.85,339.63C162.64,341.96 164.43,344.64 166.22,347.15C168.01,349.66 169.80,352.16 171.59,354.67C173.38,357.17 175.50,360.13 176.96,362.19C178.43,364.25 179.83,366.21 180.40,367.02 M136.69,341.78C137.67,341.24 140.36,339.63 142.59,338.56C144.83,337.48 148.14,335.87 150.11,335.33C152.08,334.80 152.98,334.80 154.41,335.33C155.84,335.87 157.27,337.30 158.70,338.56C160.14,339.81 161.75,341.24 163.00,342.85C164.25,344.46 164.97,346.08 166.22,348.22C167.48,350.37 169.09,353.41 170.52,355.74C171.95,358.07 173.38,360.31 174.82,362.19C176.25,364.07 178.40,366.21 179.11,367.02 M160.85,338.56C161.75,338.02 164.43,336.23 166.22,335.33C168.01,334.44 169.80,333.81 171.59,333.19C173.38,332.56 175.50,331.93 176.96,331.57C178.43,331.22 179.83,331.13 180.40,331.04 M160.85,338.02C161.75,337.75 164.43,336.77 166.22,336.41C168.01,336.05 169.23,336.05 171.59,335.87C173.96,335.69 178.93,335.42 180.40,335.33 M136.69,341.78C138.03,342.49 141.61,344.64 144.74,346.08C147.87,347.51 151.90,349.12 155.48,350.37C159.06,351.62 162.64,352.79 166.22,353.59C169.80,354.40 174.60,354.94 176.96,355.21C179.33,355.47 179.83,355.21 180.40,355.21 M136.50,354.80C137.80,355.40 141.27,357.10 144.30,358.40C147.33,359.70 151.25,361.38 154.70,362.60C158.15,363.82 161.57,364.88 165.00,365.70C168.43,366.52 172.72,367.08 175.30,367.50C177.88,367.92 179.63,368.08 180.50,368.20 M136.50,355.30C137.80,356.12 141.27,358.60 144.30,360.20C147.33,361.80 151.25,363.60 154.70,364.90C158.15,366.20 161.57,367.15 165.00,368.00C168.43,368.85 172.72,369.58 175.30,370.00C177.88,370.42 179.63,370.42 180.50,370.50 M180.36,327.28C181.04,327.01 183.05,326.65 184.44,325.67C185.84,324.68 187.49,322.62 188.74,321.37C189.99,320.12 191.07,319.04 191.96,318.15C192.86,317.25 193.75,316.36 194.11,316.00 M188.74,316.00C189.46,316.36 191.25,316.90 193.04,318.15C194.83,319.40 197.33,321.73 199.48,323.52C201.63,325.31 203.78,327.01 205.93,328.89C208.08,330.77 210.58,333.72 212.37,334.80C214.16,335.87 215.95,335.24 216.67,335.33 M180.36,331.57C181.76,331.66 185.55,331.66 188.74,332.11C191.93,332.56 196.26,333.72 199.48,334.26C202.70,334.80 205.93,335.19 208.08,335.33C210.22,335.48 210.94,335.03 212.37,335.12C213.80,335.21 215.95,335.75 216.67,335.87 M180.36,335.87C181.40,336.05 184.30,336.14 186.59,336.95C188.88,337.75 191.61,339.18 194.11,340.70C196.62,342.23 199.48,344.55 201.63,346.08C203.78,347.60 205.21,348.94 207.00,349.83C208.79,350.73 210.76,351.09 212.37,351.45C213.98,351.80 215.95,351.89 216.67,351.98 M180.36,355.21C181.76,354.94 185.55,354.22 188.74,353.59C191.93,352.97 196.44,352.02 199.48,351.45C202.53,350.87 204.14,350.34 207.00,350.16C209.87,349.98 215.06,350.34 216.67,350.37 M180.36,355.21C181.04,355.47 183.05,355.83 184.44,356.82C185.84,357.80 187.31,359.68 188.74,361.11C190.17,362.54 191.96,364.26 193.04,365.41C194.11,366.55 194.83,367.56 195.19,367.99 M182.30,367.99C183.37,367.29 186.23,365.48 188.74,363.80C191.25,362.12 194.29,360.16 197.33,357.89C200.38,355.62 204.32,352.31 207.00,350.16C209.69,348.01 211.83,346.13 213.45,345.00C215.06,343.87 216.13,343.66 216.67,343.39 M188.74,367.99C190.53,367.56 195.90,366.38 199.48,365.41C203.06,364.44 207.36,362.81 210.22,362.19C213.09,361.56 215.59,361.74 216.67,361.65 M216.36,335.33C217.76,335.24 221.91,334.98 224.74,334.80C227.57,334.62 230.83,334.53 233.33,334.26C235.84,333.99 237.81,333.10 239.78,333.19C241.75,333.28 243.36,334.08 245.15,334.80C246.94,335.51 248.55,336.50 250.52,337.48C252.49,338.47 255.00,339.90 256.96,340.70C258.93,341.51 260.72,341.96 262.34,342.32C263.95,342.67 265.92,342.76 266.63,342.85 M216.36,335.87C217.76,335.87 221.91,336.05 224.74,335.87C227.57,335.69 231.01,334.98 233.33,334.80C235.66,334.62 236.74,334.35 238.70,334.80C240.67,335.24 243.18,336.50 245.15,337.48C247.12,338.47 248.55,339.63 250.52,340.70C252.49,341.78 255.00,342.85 256.96,343.93C258.93,345.00 260.72,346.25 262.34,347.15C263.95,348.04 265.92,348.94 266.63,349.30 M216.36,343.39C217.40,343.48 220.66,344.20 222.59,343.93C224.53,343.66 226.17,342.67 227.96,341.78C229.75,340.88 231.54,339.09 233.33,338.56C235.12,338.02 236.56,338.20 238.70,338.56C240.85,338.91 243.90,339.81 246.22,340.70C248.55,341.60 250.52,342.67 252.67,343.93C254.82,345.18 256.79,346.70 259.11,348.22C261.44,349.75 265.38,352.25 266.63,353.06 M216.36,350.91C217.40,350.28 220.66,348.40 222.59,347.15C224.53,345.90 226.17,344.37 227.96,343.39C229.75,342.41 231.19,341.60 233.33,341.24C235.48,340.88 238.70,340.97 240.85,341.24C243.00,341.51 244.25,341.87 246.22,342.85C248.19,343.84 250.52,345.72 252.67,347.15C254.82,348.58 256.79,350.37 259.11,351.45C261.44,352.52 265.38,353.24 266.63,353.59 M216.36,351.98C217.40,351.54 220.66,350.46 222.59,349.30C224.53,348.13 225.82,345.63 227.96,345.00C230.11,344.37 232.80,345.27 235.48,345.54C238.17,345.81 241.57,346.34 244.08,346.61C246.58,346.88 248.37,346.34 250.52,347.15C252.67,347.95 254.28,349.48 256.96,351.45C259.65,353.41 265.02,357.71 266.63,358.96 M216.36,362.19C217.04,362.37 219.05,362.54 220.44,363.26C221.84,363.98 223.67,365.70 224.74,366.48C225.82,367.27 226.53,367.74 226.89,367.99 M248.37,367.99C249.80,367.20 254.64,364.59 256.96,363.26C259.29,361.94 260.72,360.84 262.34,360.04C263.95,359.23 265.92,358.70 266.63,358.43 M254.82,367.99C255.71,367.38 258.22,365.48 260.19,364.34C262.16,363.19 265.56,361.65 266.63,361.11 M266.62,343.39C267.64,343.30 270.83,343.66 272.74,342.85C274.66,342.05 276.32,340.08 278.11,338.56C279.90,337.03 281.51,334.89 283.48,333.72C285.45,332.56 287.78,331.75 289.93,331.57C292.08,331.40 294.22,332.02 296.37,332.65C298.52,333.28 300.45,334.53 302.82,335.33C305.18,336.14 309.26,337.12 310.55,337.48 M266.62,353.06C267.64,353.24 270.29,354.04 272.74,354.13C275.19,354.22 278.65,354.04 281.33,353.59C284.02,353.15 286.17,352.34 288.85,351.45C291.54,350.55 294.76,349.21 297.45,348.22C300.13,347.24 302.78,346.11 304.96,345.54C307.15,344.97 309.62,344.91 310.55,344.79 M266.62,358.96C267.64,358.52 270.83,356.82 272.74,356.28C274.66,355.74 276.32,355.38 278.11,355.74C279.90,356.10 281.69,357.17 283.48,358.43C285.27,359.68 287.06,361.67 288.85,363.26C290.64,364.85 293.33,367.20 294.22,367.99 M266.62,361.11C267.28,361.65 269.39,363.19 270.59,364.34C271.79,365.48 273.28,367.38 273.82,367.99 M310.67,337.20C311.32,336.92 313.00,336.83 314.58,335.52C316.16,334.22 318.30,331.34 320.16,329.39C322.02,327.44 323.88,325.58 325.74,323.81C327.59,322.04 329.45,319.90 331.31,318.79C333.17,317.67 335.03,317.21 336.89,317.12C338.75,317.02 340.61,317.12 342.47,318.23C344.33,319.35 346.19,321.58 348.05,323.81C349.91,326.04 351.95,329.20 353.63,331.62C355.30,334.04 356.94,336.55 358.09,338.31C359.24,340.08 360.14,341.57 360.55,342.22 M310.67,337.20C311.51,336.73 313.74,336.08 315.69,334.41C317.65,332.74 320.16,329.11 322.39,327.16C324.62,325.20 326.85,323.62 329.08,322.69C331.31,321.76 333.73,321.58 335.78,321.58C337.82,321.58 339.50,321.76 341.36,322.69C343.21,323.62 344.89,325.30 346.93,327.16C348.98,329.02 351.36,331.34 353.63,333.85C355.90,336.36 359.39,340.82 360.55,342.22 M310.67,345.01C311.51,345.29 313.74,345.57 315.69,346.68C317.65,347.80 320.16,349.75 322.39,351.70C324.62,353.65 327.04,356.72 329.08,358.40C331.13,360.07 332.80,361.28 334.66,361.74C336.52,362.21 338.38,361.93 340.24,361.19C342.10,360.44 343.96,358.86 345.82,357.28C347.68,355.70 349.54,353.56 351.40,351.70C353.26,349.84 355.45,347.61 356.98,346.12C358.50,344.64 359.95,343.33 360.55,342.78 M335.78,362.30C336.89,361.84 340.24,360.91 342.47,359.51C344.70,358.12 347.12,355.79 349.17,353.93C351.21,352.07 352.85,350.03 354.74,348.36C356.64,346.68 359.58,344.64 360.55,343.89 M330.20,370.00C330.94,369.70 333.17,368.47 334.66,368.21C336.15,367.95 337.64,368.77 339.12,368.44C340.61,368.10 341.91,367.51 343.59,366.21C345.26,364.90 347.31,362.30 349.17,360.63C351.02,358.95 352.85,357.19 354.74,356.17C356.64,355.14 359.58,354.77 360.55,354.49 M57.36,366.83C58.76,366.65 62.55,366.30 65.74,365.76C68.93,365.22 74.16,363.88 76.48,363.61C78.81,363.34 78.27,363.34 79.70,364.15C81.14,364.95 83.11,366.83 85.08,368.44C87.04,370.06 88.92,371.67 91.52,373.82C94.12,375.96 99.13,380.08 100.65,381.33 M57.36,375.96C58.04,375.07 60.05,372.20 61.44,370.59C62.84,368.98 64.31,367.73 65.74,366.30C67.17,364.86 69.32,362.72 70.04,362.00 M57.36,380.80C58.04,381.42 60.05,383.03 61.44,384.56C62.84,386.08 64.31,388.14 65.74,389.93C67.17,391.72 68.25,393.33 70.04,395.30C71.83,397.27 74.33,399.59 76.48,401.74C78.63,403.89 80.42,405.68 82.93,408.19C85.43,410.69 88.60,413.86 91.52,416.78C94.44,419.70 98.95,424.21 100.44,425.69 M100.36,381.33C101.22,380.26 103.76,377.04 105.52,374.89C107.27,372.74 109.10,370.59 110.89,368.44C112.68,366.30 115.36,363.07 116.26,362.00 M100.36,381.33C101.40,382.41 104.30,385.45 106.59,387.78C108.88,390.11 111.61,392.97 114.11,395.30C116.62,397.62 119.12,399.86 121.63,401.74C124.14,403.62 126.70,405.32 129.15,406.58C131.60,407.83 135.15,408.81 136.35,409.26 M136.36,409.26C137.76,408.01 141.55,404.61 144.74,401.74C147.93,398.88 151.90,395.30 155.48,392.08C159.06,388.85 163.00,385.27 166.22,382.41C169.45,379.54 172.45,376.68 174.82,374.89C177.18,373.10 179.47,372.20 180.40,371.67 M142.59,413.99C143.85,412.66 147.07,409.33 150.11,406.04C153.16,402.74 157.27,398.34 160.85,394.22C164.43,390.11 168.34,385.09 171.59,381.33C174.85,377.57 178.93,373.28 180.40,371.67 M136.36,409.26L142.59,413.56 M174.82,362.00C175.35,362.72 177.11,365.22 178.04,366.30C178.97,367.37 180.01,368.09 180.40,368.44 M180.36,368.44C181.76,368.09 185.55,367.01 188.74,366.30C191.93,365.58 195.90,364.77 199.48,364.15C203.06,363.52 207.36,362.90 210.22,362.54C213.09,362.18 215.59,362.09 216.67,362.00 M180.36,370.06C181.76,369.79 185.55,368.89 188.74,368.44C191.93,368.00 195.90,367.64 199.48,367.37C203.06,367.10 207.36,366.92 210.22,366.83C213.09,366.74 215.59,366.83 216.67,366.83 M180.36,371.13C181.76,371.40 185.55,372.11 188.74,372.74C191.93,373.37 195.90,374.39 199.48,374.89C203.06,375.39 207.36,375.57 210.22,375.75C213.09,375.93 215.59,375.93 216.67,375.96 M180.36,371.67C181.76,372.20 185.55,373.82 188.74,374.89C191.93,375.96 196.26,377.22 199.48,378.11C202.70,379.01 205.21,379.90 208.08,380.26C210.94,380.62 215.24,380.26 216.67,380.26 M188.74,364.15C189.64,364.86 192.32,366.83 194.11,368.44C195.90,370.06 197.69,371.85 199.48,373.82C201.27,375.78 203.06,377.93 204.85,380.26C206.64,382.59 208.25,385.09 210.22,387.78C212.19,390.46 215.59,394.94 216.67,396.37 M199.48,413.99C200.38,413.02 203.06,410.05 204.85,408.19C206.64,406.33 208.25,404.79 210.22,402.82C212.19,400.85 215.59,397.45 216.67,396.37 M216.36,362.00C217.40,362.54 220.66,363.97 222.59,365.22C224.53,366.48 226.17,368.36 227.96,369.52C229.75,370.68 231.54,371.85 233.33,372.20C235.12,372.56 236.56,372.20 238.70,371.67C240.85,371.13 243.54,370.06 246.22,368.98C248.91,367.91 252.31,366.39 254.82,365.22C257.32,364.06 260.19,362.54 261.26,362.00 M216.36,366.83C217.04,367.10 219.05,367.46 220.44,368.44C221.84,369.43 223.13,370.95 224.74,372.74C226.35,374.53 228.68,377.40 230.11,379.19C231.54,380.98 232.26,382.68 233.33,383.48C234.41,384.29 235.48,384.20 236.56,384.02C237.63,383.84 238.17,382.32 239.78,382.41C241.39,382.50 243.72,383.30 246.22,384.56C248.73,385.81 252.31,388.41 254.82,389.93C257.32,391.45 259.29,392.61 261.26,393.69C263.23,394.76 265.74,395.92 266.63,396.37 M216.36,375.96C217.76,375.87 221.91,375.34 224.74,375.43C227.57,375.52 231.19,376.05 233.33,376.50C235.48,376.95 236.38,377.49 237.63,378.11C238.88,378.74 239.78,380.26 240.85,380.26C241.93,380.26 242.64,379.19 244.08,378.11C245.51,377.04 247.30,375.52 249.45,373.82C251.59,372.11 254.82,369.52 256.96,367.91C259.11,366.30 260.83,365.13 262.34,364.15C263.84,363.16 265.38,362.36 265.99,362.00 M216.36,380.26C217.76,380.17 221.91,380.08 224.74,379.72C227.57,379.36 230.65,378.74 233.33,378.11C236.02,377.49 238.17,376.86 240.85,375.96C243.54,375.07 246.76,373.99 249.45,372.74C252.13,371.49 254.64,369.97 256.96,368.44C259.29,366.92 262.34,364.42 263.41,363.61 M216.36,396.37C217.40,395.83 220.66,394.22 222.59,393.15C224.53,392.08 226.17,390.91 227.96,389.93C229.75,388.94 231.90,387.60 233.33,387.24C234.77,386.88 235.30,386.97 236.56,387.78C237.81,388.58 239.24,390.11 240.85,392.08C242.46,394.04 244.25,397.27 246.22,399.59C248.19,401.92 250.34,403.64 252.67,406.04C255.00,408.44 258.93,412.66 260.19,413.99 M216.36,396.37C217.76,396.82 221.55,398.25 224.74,399.06C227.93,399.86 231.90,400.76 235.48,401.21C239.06,401.65 242.64,402.01 246.22,401.74C249.80,401.47 253.56,400.49 256.96,399.59C260.37,398.70 265.02,396.91 266.63,396.37 M266.62,362.00C267.64,362.90 270.65,365.22 272.74,367.37C274.84,369.52 277.04,372.38 279.19,374.89C281.33,377.40 283.66,380.35 285.63,382.41C287.60,384.47 289.39,386.17 291.00,387.24C292.61,388.32 293.87,388.76 295.30,388.85C296.73,388.94 297.98,388.41 299.59,387.78C301.21,387.15 303.17,385.72 304.96,385.09C306.75,384.47 309.44,384.20 310.34,384.02 M287.78,362.00C288.85,362.90 292.08,365.58 294.22,367.37C296.37,369.16 298.52,371.13 300.67,372.74C302.82,374.35 305.50,376.23 307.11,377.04C308.72,377.84 309.80,377.49 310.34,377.57 M266.62,396.37C267.64,396.37 270.29,396.64 272.74,396.37C275.19,396.10 278.65,395.39 281.33,394.76C284.02,394.13 286.70,393.06 288.85,392.61C291.00,392.16 292.43,391.45 294.22,392.08C296.01,392.70 297.80,394.94 299.59,396.37C301.38,397.80 303.17,399.59 304.96,400.67C306.75,401.74 309.44,402.46 310.34,402.82 M294.22,413.99C295.30,413.38 298.52,411.57 300.67,410.34C302.82,409.10 305.50,407.47 307.11,406.58C308.72,405.68 309.80,405.23 310.34,404.96 M310.34,377.62C311.23,377.43 313.69,377.15 315.69,376.50C317.70,375.85 320.34,374.64 322.39,373.71C324.43,372.79 326.11,371.76 327.97,370.93C329.83,370.09 331.87,369.10 333.55,368.69C335.22,368.29 336.71,368.47 338.01,368.47C339.31,368.47 340.24,369.03 341.36,368.69C342.47,368.36 343.59,367.39 344.70,366.46C345.82,365.53 347.31,363.86 348.05,363.12C348.79,362.37 348.98,362.19 349.17,362.00 M310.34,384.31C311.60,384.41 315.17,384.69 317.93,384.87C320.68,385.06 324.62,385.80 326.85,385.43C329.08,385.06 329.64,384.13 331.31,382.64C332.99,381.15 335.22,378.12 336.89,376.50C338.57,374.89 340.05,373.49 341.36,372.93C342.66,372.38 343.03,372.56 344.70,373.16C346.38,373.75 348.76,375.20 351.40,376.50C354.04,377.81 359.02,380.22 360.55,380.97 M310.34,403.28C311.23,402.35 313.69,399.75 315.69,397.70C317.70,395.66 320.34,392.68 322.39,391.01C324.43,389.33 325.55,388.50 327.97,387.66C330.38,386.82 334.10,386.45 336.89,385.99C339.68,385.52 341.91,385.34 344.70,384.87C347.49,384.41 350.99,383.85 353.63,383.20C356.27,382.55 359.39,381.34 360.55,380.97 M310.34,404.95C311.60,405.79 315.17,408.13 317.93,409.98C320.68,411.82 325.36,415.00 326.85,416.00 M57.48,440.54C59.27,440.40 64.50,440.40 68.22,439.71C71.94,439.02 75.94,437.78 79.79,436.40C83.65,435.03 87.92,433.24 91.36,431.45C94.81,429.66 98.94,426.63 100.45,425.66 M100.45,425.66C102.52,425.39 108.86,424.83 112.85,424.01C116.85,423.18 120.73,421.80 124.42,420.70C128.11,419.60 133.24,417.95 135.00,417.40 M136.82,409.13C138.44,409.99 142.50,412.40 146.53,414.30C150.56,416.19 156.86,418.95 160.99,420.50C165.12,422.05 168.05,422.84 171.32,423.60C174.59,424.35 177.87,425.04 180.62,425.04C183.37,425.04 184.92,425.21 187.85,423.60C190.78,421.98 194.74,418.43 198.18,415.33C201.63,412.23 206.79,406.72 208.51,405.00 M130.00,419.46C131.14,419.12 134.41,418.43 136.82,417.40C139.23,416.36 142.16,415.33 144.46,413.26C146.77,411.20 149.63,406.38 150.66,405.00 M136.82,417.40C138.44,418.43 142.50,421.53 146.53,423.60C150.56,425.66 156.86,428.24 160.99,429.79C165.12,431.34 168.05,432.20 171.32,432.89C174.59,433.58 177.18,433.24 180.62,433.93C184.06,434.61 188.37,435.99 191.98,437.02C195.60,438.06 198.25,439.33 202.31,440.12C206.38,440.92 214.02,441.50 216.36,441.78 M216.48,441.78C218.82,441.57 225.78,441.85 230.53,440.54C235.28,439.23 240.52,436.23 244.99,433.93C249.47,431.62 253.77,429.04 257.39,426.69C261.00,424.35 265.14,421.01 266.69,419.88 M251.19,405.00C252.57,406.21 256.87,409.75 259.45,412.23C262.04,414.71 265.48,418.60 266.69,419.88 M266.69,419.88C268.92,419.63 275.81,419.36 280.12,418.43C284.42,417.50 288.72,415.85 292.51,414.30C296.30,412.75 299.85,410.68 302.84,409.13C305.84,407.58 309.21,405.69 310.49,405.00 M290.00,415.15C291.55,414.50 295.94,412.95 299.30,411.27C302.66,409.59 308.34,406.11 310.15,405.07 M310.15,405.07C311.95,406.24 317.12,409.72 320.99,412.05C324.87,414.37 329.52,417.21 333.39,419.02C337.26,420.83 341.14,421.99 344.24,422.89C347.34,423.80 349.27,424.06 351.99,424.44C354.70,424.83 359.09,425.09 360.51,425.22" fill="none" stroke="#000" stroke-width="0.95" stroke-linejoin="round"/><path d="M136.69,354.13C137.67,353.50 140.36,351.89 142.59,350.37C144.83,348.85 147.96,346.52 150.11,345.00C152.26,343.48 153.69,342.32 155.48,341.24C157.27,340.17 159.24,339.43 160.85,338.56C162.46,337.68 164.43,336.41 165.15,335.98 M57.36,396.37C58.40,396.28 61.48,396.10 63.59,395.83C65.71,395.57 67.89,395.21 70.04,394.76C72.19,394.31 74.16,393.95 76.48,393.15C78.81,392.34 81.49,391.09 84.00,389.93C86.51,388.76 88.75,387.60 91.52,386.17C94.29,384.74 99.13,382.14 100.65,381.33" fill="none" stroke="#000" stroke-width="1.6" stroke-linejoin="round"/></g>
<line x1="100.5" y1="272.0" x2="100.5" y2="449.2" stroke="#222" stroke-width="1"/>
<line x1="136.5" y1="272.0" x2="136.5" y2="449.2" stroke="#222" stroke-width="1"/>
<line x1="180.5" y1="272.0" x2="180.5" y2="449.2" stroke="#222" stroke-width="1"/>
<line x1="216.5" y1="272.0" x2="216.5" y2="449.2" stroke="#222" stroke-width="1"/>
<line x1="266.5" y1="272.0" x2="266.5" y2="449.2" stroke="#222" stroke-width="1"/>
<line x1="310.5" y1="272.0" x2="310.5" y2="449.2" stroke="#222" stroke-width="1"/>
<line x1="58.7" y1="320" x2="360.5" y2="320" stroke="#444" stroke-width="1.6" stroke-dasharray="4,3"/>
<rect x="57.2" y="272.0" width="303.3" height="177.2" fill="none" stroke="#111" stroke-width="1.3"/>
<line x1="57.2" y1="271.8" x2="60.2" y2="271.8" stroke="#111" stroke-width="1"/>
<text x="51" y="276.3" text-anchor="end" font-family='"Liberation Serif", serif' font-size="13.6" fill="#111">10</text>
<line x1="57.2" y1="319.8" x2="60.2" y2="319.8" stroke="#111" stroke-width="1"/>
<text x="51" y="324.3" text-anchor="end" font-family='"Liberation Serif", serif' font-size="13.6" fill="#111">0</text>
<line x1="57.2" y1="367.8" x2="60.2" y2="367.8" stroke="#111" stroke-width="1"/>
<text x="51" y="372.3" text-anchor="end" font-family='"Liberation Serif", serif' font-size="13.6" fill="#111">-10</text>
<line x1="57.2" y1="415.8" x2="60.2" y2="415.8" stroke="#111" stroke-width="1"/>
<text x="51" y="420.3" text-anchor="end" font-family='"Liberation Serif", serif' font-size="13.6" fill="#111">-20</text>
<line x1="57.2" y1="295.8" x2="59.0" y2="295.8" stroke="#111" stroke-width="1"/>
<line x1="57.2" y1="343.8" x2="59.0" y2="343.8" stroke="#111" stroke-width="1"/>
<line x1="57.2" y1="391.8" x2="59.0" y2="391.8" stroke="#111" stroke-width="1"/>
<line x1="57.2" y1="439.8" x2="59.0" y2="439.8" stroke="#111" stroke-width="1"/>
<text transform="translate(13.8,349.5) rotate(-90)" text-anchor="middle" font-family='"Liberation Serif", serif' font-size="15.8" fill="#111">Energy (eV)</text>
<text x="61.3" y="466.9" text-anchor="middle" font-family='"Liberation Serif", serif' font-size="13.2" fill="#111">Γ</text>
<text x="98.8" y="466.9" text-anchor="middle" font-family='"Liberation Sans", sans-serif' font-size="12.6" fill="#111">Z</text>
<text x="133.4" y="466.9" text-anchor="middle" font-family='"Liberation Sans", sans-serif' font-size="14.8" fill="#111">T</text>
<text x="175.3" y="466.9" text-anchor="middle" font-family='"Liberation Sans", sans-serif' font-size="14.8" fill="#111">Y</text>
<text x="217.1" y="466.9" text-anchor="middle" font-family='"Liberation Serif", serif' font-size="13.2" fill="#111">Γ</text>
<text x="265.3" y="466.9" text-anchor="middle" font-family='"Liberation Sans", sans-serif' font-size="14.6" fill="#111">S</text>
<text x="312.2" y="466.9" text-anchor="middle" font-family='"Liberation Sans", sans-serif' font-size="14.6" fill="#111">R</text>
<text x="357.9" y="466.9" text-anchor="middle" font-family='"Liberation Sans", sans-serif' font-size="12.6" fill="#111">Z</text>
<g clip-path="url(#cd)"><polyline points="436.5,272.2 436.1,273.9 437.7,275.6 430.0,277.5 418.0,279.5 416.0,281.0 417.0,283.0 414.8,284.9 413.6,286.1 415.2,287.4 414.8,288.6 416.0,290.5 415.5,292.1 413.6,293.6 411.1,296.0 409.2,297.2 408.6,298.5 407.4,300.4 402.4,302.2 401.5,303.4 400.7,304.7 399.1,306.1 397.8,307.6 395.3,309.1 392.0,310.5 386.2,311.9 384.2,313.4 380.5,314.8 377.2,316.2 376.1,317.7 373.2,319.9 377.0,321.0 382.0,322.0 391.8,323.5 397.0,324.0 403.5,325.4 412.6,326.9 420.2,328.6 426.0,330.3 441.6,331.4 461.7,333.6 435.0,334.7 423.8,337.0 437.0,338.5 451.3,339.9 464.0,341.4 457.0,343.1 452.8,344.8 446.7,346.3 441.6,347.7 435.0,349.2 424.2,350.9 414.9,352.6 423.8,354.8 429.5,356.5 432.7,358.2 430.9,359.7 425.5,361.1 423.8,362.6 424.7,364.3 428.3,366.0 425.4,367.5 423.5,368.9 419.3,370.4 417.8,371.8 416.2,373.2 415.7,374.7 413.4,376.1 413.6,377.5 411.6,379.0 411.0,380.5 410.0,382.0 411.3,383.3 411.9,384.7 414.0,386.0 411.4,387.2 409.6,388.4 408.5,389.6 406.2,390.8 405.0,392.0 405.3,393.3 409.3,394.7 410.0,396.0 408.2,397.2 406.4,398.5 403.1,399.8 402.0,401.0 402.9,402.2 402.0,403.5 399.4,404.8 400.0,406.0 400.5,407.2 402.6,408.5 403.6,409.8 404.0,411.0 403.7,412.2 400.8,413.5 400.4,414.8 398.0,416.0 397.1,417.3 394.6,418.7 393.8,420.0 393.7,421.4 394.2,422.7 393.7,424.1 392.4,425.4 392.3,426.8 390.4,428.1 391.3,429.5 387.8,430.9 386.5,432.2 382.6,433.6 380.0,435.0 376.3,436.2 374.5,437.4 372.2,438.6 369.3,439.8 366.0,441.0" fill="none" stroke="#8a8a8a" stroke-width="1.2" stroke-dasharray="3.1,2.3"/><polyline points="424.2,273.8 423.4,275.2 421.3,276.6 418.0,278.0 415.4,279.3 414.0,280.6 413.8,281.9 415.5,283.3 415.9,284.6 416.0,286.0 416.2,287.3 414.9,288.6 415.5,289.8 414.9,291.1 416.3,292.6 417.2,294.0 419.3,295.4 421.0,296.7 423.1,297.9 427.2,299.1 430.1,300.4 433.4,301.6 435.9,302.2 421.0,302.0 416.6,304.0 418.0,306.0 417.4,307.3 418.1,308.6 418.5,310.0 418.1,311.3 416.6,312.6 409.4,313.4 402.2,314.8 394.9,316.2 389.5,318.5 386.0,320.1 390.0,322.0 394.1,323.5 399.7,324.8 405.0,326.0 414.9,328.2 430.0,330.5 433.4,332.8 409.7,334.9 394.8,334.9 409.7,334.9 430.0,334.3 420.0,336.0 407.2,337.3 394.8,338.6 407.2,339.9 419.6,340.5 430.0,339.9 414.9,342.1 418.1,343.6 421.3,345.2 426.5,346.7 423.6,348.2 423.3,349.8 421.9,351.3 419.8,352.8 418.4,354.4 417.2,355.9 419.2,357.3 419.1,358.6 420.0,360.0 418.2,361.3 415.3,362.7 414.0,364.0 414.0,365.3 416.2,366.7 418.0,368.0 415.0,369.2 414.0,370.5 413.4,371.8 410.0,373.0 409.7,374.2 407.6,375.5 408.9,376.8 407.0,378.0 408.3,379.2 408.7,380.5 409.6,381.8 409.0,383.0 407.9,384.2 406.2,385.4 403.2,386.6 403.1,387.8 400.0,389.0 402.3,390.2 401.1,391.5 403.7,392.8 404.0,394.0 403.1,395.2 400.9,396.5 399.6,397.8 398.0,399.0 397.6,400.2 398.4,401.4 396.8,402.6 397.3,403.8 396.0,405.0 396.3,406.2 398.6,407.5 399.4,408.8 399.0,410.0 397.2,411.3 395.9,412.7 394.0,414.0 394.2,415.2 392.6,416.5 391.0,417.8 390.0,419.0 389.7,420.2 390.5,421.5 392.1,422.8 392.0,424.0 389.9,425.2 390.7,426.4 387.8,427.6 388.4,428.8 386.0,430.0 383.3,431.2 382.9,432.4 380.0,433.6 377.2,434.8 375.0,436.0 372.8,437.2 370.9,438.5 368.5,439.8 366.0,441.0" fill="none" stroke="#333" stroke-width="0.9" stroke-dasharray="3.7,1.3,1,1.3"/><polyline points="422.2,272.2 427.2,273.1 430.9,275.0 433.4,276.2 429.7,276.8 424.7,277.4 419.8,278.7 418.5,279.9 419.8,281.8 421.6,282.4 421.0,283.2 419.8,284.3 419.1,286.1 419.3,287.4 420.4,288.6 423.5,290.5 427.2,291.1 429.7,290.5 430.3,292.3 427.2,293.6 423.5,294.8 418.5,296.7 414.8,297.9 412.9,299.1 414.8,299.8 418.5,300.4 422.2,301.0 425.9,301.6 422.2,302.5 414.8,302.9 412.5,304.0 413.7,305.0 412.3,306.1 415.2,307.6 416.6,309.0 410.8,310.5 403.6,311.2 399.3,311.9 396.4,313.4 392.0,314.8 386.2,316.2 380.5,317.7 374.7,319.1 372.5,319.9 374.7,321.3 378.7,322.8 381.5,324.5 383.6,326.9 386.2,328.1 388.6,329.3 392.3,331.2 401.0,333.1 409.7,334.3 401.0,334.9 392.3,335.5 386.1,336.4 384.3,337.4 386.1,339.3 391.1,340.5 396.0,341.7 399.1,343.6 400.4,345.5 402.9,347.9 404.7,349.8 403.5,351.7 402.2,352.9 404.7,354.1 408.4,356.0 412.1,357.9 414.6,359.7 413.4,361.1 412.6,362.6 409.4,364.3 405.9,366.0 403.7,368.2 406.0,370.0 404.6,371.3 402.0,372.5 401.2,373.8 401.6,375.0 404.3,376.3 405.0,377.5 402.6,378.8 401.0,380.0 406.0,382.0 407.5,383.4 409.9,384.9 407.1,386.1 402.4,387.3 399.3,388.6 395.0,389.8 391.3,391.0 395.3,392.3 398.7,393.6 408.6,396.0 401.8,397.2 396.2,398.5 395.8,399.8 395.7,401.0 394.4,402.2 393.8,403.5 394.0,404.7 393.6,406.0 392.2,407.2 393.2,408.5 392.5,409.7 397.0,411.1 401.2,412.6 387.6,414.6 385.3,415.9 383.0,417.1 382.6,418.4 380.0,419.6 379.2,420.8 378.8,422.1 378.3,423.3 377.2,424.5 376.8,425.8 375.2,427.0 374.2,428.2 374.1,429.5 372.6,430.8 372.7,432.0 371.7,433.2 370.2,434.5 368.5,435.7 367.5,437.0 366.7,438.2 367.0,439.5 365.2,440.7" fill="none" stroke="#000" stroke-width="1.2" stroke-linejoin="round"/></g>
<line x1="367.0" y1="320" x2="474.5" y2="320" stroke="#444" stroke-width="1.6" stroke-dasharray="4,3"/>
<rect x="365.5" y="272.0" width="109.0" height="177.2" fill="none" stroke="#222" stroke-width="1.1"/>
<line x1="383.2" y1="449.2" x2="383.2" y2="447.2" stroke="#222" stroke-width="0.9"/>
<line x1="401.5" y1="449.2" x2="401.5" y2="447.2" stroke="#222" stroke-width="0.9"/>
<line x1="419.8" y1="449.2" x2="419.8" y2="447.2" stroke="#222" stroke-width="0.9"/>
<line x1="438.0" y1="449.2" x2="438.0" y2="447.2" stroke="#222" stroke-width="0.9"/>
<line x1="456.2" y1="449.2" x2="456.2" y2="447.2" stroke="#222" stroke-width="0.9"/>
<line x1="365.5" y1="295.8" x2="367.3" y2="295.8" stroke="#222" stroke-width="0.9"/>
<line x1="365.5" y1="319.8" x2="367.3" y2="319.8" stroke="#222" stroke-width="0.9"/>
<line x1="365.5" y1="343.8" x2="367.3" y2="343.8" stroke="#222" stroke-width="0.9"/>
<line x1="365.5" y1="367.8" x2="367.3" y2="367.8" stroke="#222" stroke-width="0.9"/>
<line x1="365.5" y1="391.8" x2="367.3" y2="391.8" stroke="#222" stroke-width="0.9"/>
<line x1="365.5" y1="415.8" x2="367.3" y2="415.8" stroke="#222" stroke-width="0.9"/>
<line x1="365.5" y1="439.8" x2="367.3" y2="439.8" stroke="#222" stroke-width="0.9"/>
<text x="371.7" y="464.8" text-anchor="middle" font-family='"Liberation Serif", serif' font-size="11.6" fill="#222">0.0</text>
<text x="399.8" y="464.8" text-anchor="middle" font-family='"Liberation Serif", serif' font-size="11.6" fill="#222">0.2</text>
<text x="437.2" y="464.8" text-anchor="middle" font-family='"Liberation Serif", serif' font-size="11.6" fill="#222">0.4</text>
<text x="472.2" y="464.8" text-anchor="middle" font-family='"Liberation Serif", serif' font-size="11.6" fill="#222">0.6</text>
<text x="361" y="479.8" font-family='"Liberation Serif", serif' font-size="13.6" fill="#222" textLength="119" lengthAdjust="spacingAndGlyphs">DOS (states/eV/cell)</text>
<line x1="416.3" y1="388.5" x2="447.3" y2="388.5" stroke="#111" stroke-width="1.1"/>
<text x="450.5" y="393.4" font-family='"Liberation Serif", serif' font-size="12.4" fill="#222">Si</text>
<line x1="416.3" y1="406.2" x2="447.5" y2="406.2" stroke="#999" stroke-width="1.5" stroke-dasharray="3.1,2.5"/>
<text x="451" y="411.3" font-family='"Liberation Serif", serif' font-size="12.4" fill="#222">H1</text>
<line x1="416.3" y1="423.4" x2="447.5" y2="423.4" stroke="#222" stroke-width="1" stroke-dasharray="3.7,1.3,1,1.3"/>
<text x="451" y="428.1" font-family='"Liberation Serif", serif' font-size="12.4" fill="#222">H2</text>
</svg>
</body></html>
